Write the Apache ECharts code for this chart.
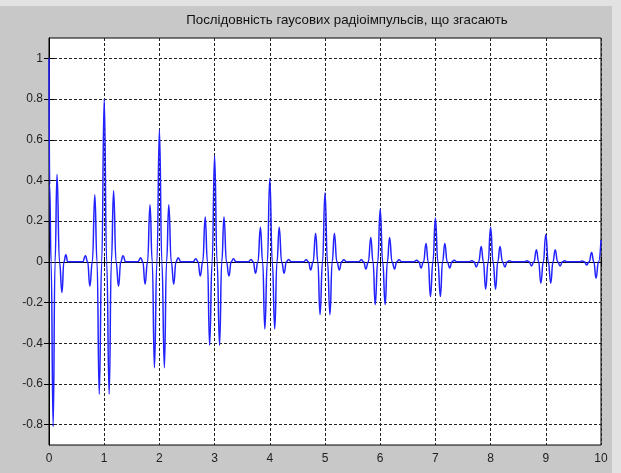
<!DOCTYPE html>
<html><head><meta charset="utf-8">
<script src="https://cdn.jsdelivr.net/npm/echarts@6/dist/echarts.min.js"></script>
<style>
html,body{margin:0;padding:0;background:#e2e2e2;}
#c{width:621px;height:473px;background:linear-gradient(#c8c8c8,#c8c8c8) 0 6px / 612px 467px no-repeat,#e2e2e2;}
</style>
</head><body><div id="c"></div>
<script>
const titleText = 'Послідовність гаусових радіоімпульсів, що згасають';
const xTicks = [0,1,2,3,4,5,6,7,8,9,10];
const yTicks = [-0.8,-0.6,-0.4,-0.2,0,0.2,0.4,0.6,0.8,1];

// first (half) pulse starting at t = 0
const pulse0Times  = [0, 0.012, 0.038, 0.075, 0.11, 0.145, 0.19, 0.235, 0.27, 0.305, 0.34, 0.43];
const pulse0Values = [1.0, 0.38, 0.0, -0.81, 0.0, 0.43, 0.0, -0.15, 0.0, 0.035, 0.0, 0.0];

// full pulses centred on t = 1..9 (extrema and zero crossings)
const pulseCenters = [1,2,3,4,5,6,7,8,9];
const pulseOffsets = [-0.45,-0.39,-0.34,-0.3,-0.26,-0.215,-0.17,-0.13,-0.09,-0.045,0,0.045,0.09,0.13,0.17,0.215,0.26,0.3,0.34,0.39,0.45];
const pulseValues = [
  [0,0,0.03, 0,-0.12, 0,0.33, 0,-0.65, 0,0.80, 0,-0.65, 0,0.35, 0,-0.12, 0,0.03, 0,0],
  [0,0,0.02, 0,-0.11, 0,0.28, 0,-0.52, 0,0.65, 0,-0.52, 0,0.28, 0,-0.11, 0,0.02, 0,0],
  [0,0,0.015,0,-0.07, 0,0.22, 0,-0.41, 0,0.52, 0,-0.41, 0,0.22, 0,-0.07, 0,0.015,0,0],
  [0,0,0.012,0,-0.056,0,0.17, 0,-0.33, 0,0.41, 0,-0.33, 0,0.17, 0,-0.056,0,0.012,0,0],
  [0,0,0.01, 0,-0.04, 0,0.14, 0,-0.26, 0,0.34, 0,-0.26, 0,0.14, 0,-0.04, 0,0.01, 0,0],
  [0,0,0.01, 0,-0.035,0,0.12, 0,-0.21, 0,0.26, 0,-0.21, 0,0.12, 0,-0.035,0,0.01, 0,0],
  [0,0,0.008,0,-0.03, 0,0.09, 0,-0.17, 0,0.215,0,-0.17, 0,0.09, 0,-0.03, 0,0.008,0,0],
  [0,0,0.006,0,-0.025,0,0.075,0,-0.135,0,0.17, 0,-0.135,0,0.075,0,-0.025,0,0.006,0,0],
  [0,0,0.005,0,-0.02, 0,0.06, 0,-0.105,0,0.135,0,-0.105,0,0.06, 0,-0.02, 0,0.005,0,0]
];

// last (half) pulse ending at t = 10
const lastPulseTimes  = [9.55, 9.61, 9.66, 9.7, 9.74, 9.785, 9.83, 9.87, 9.91, 9.955, 10];
const lastPulseValues = [0, 0, 0.004, 0, -0.015, 0, 0.046, 0, -0.08, 0, 0.108];

const data = [];
pulse0Times.forEach((t, i) => data.push([t, pulse0Values[i]]));
pulseCenters.forEach((c, k) => {
  pulseOffsets.forEach((o, i) => data.push([+(c + o).toFixed(3), pulseValues[k][i]]));
});
lastPulseTimes.forEach((t, i) => data.push([t, lastPulseValues[i]]));

const chart = echarts.init(document.getElementById('c'), null, {renderer: 'canvas'});
const font = 'Liberation Sans, Arial, sans-serif';
const gridLine = {show: true, lineStyle: {color: '#222', width: 1, type: [3, 2]}};
const axisLineBlack = {show: true, lineStyle: {color: '#000', width: 1}};
chart.setOption({
  animation: false,
  backgroundColor: 'transparent',
  graphic: [{
    type: 'text', x: 347, y: 20,
    style: {text: titleText, fill: '#111', font: '13.3px ' + font, align: 'center', verticalAlign: 'middle'}
  }],
  grid: {left: 49, right: 20, top: 38, bottom: 28, show: true, backgroundColor: '#fff', borderColor: '#000', borderWidth: 1},
  xAxis: [{
    type: 'value', min: 0, max: 10, interval: 1, position: 'bottom',
    axisLine: axisLineBlack,
    axisTick: {show: true, inside: true, length: 5, lineStyle: {color: '#000'}},
    axisLabel: {color: '#222', fontSize: 12, fontFamily: font, margin: 8},
    splitLine: gridLine
  }, {
    type: 'value', min: 0, max: 10, interval: 1, position: 'top',
    axisLine: axisLineBlack,
    axisTick: {show: true, inside: true, length: 5, lineStyle: {color: '#000'}},
    axisLabel: {show: false}, splitLine: {show: false}
  }],
  yAxis: [{
    type: 'value', min: -0.9, max: 1.1, position: 'left',
    axisLine: axisLineBlack,
    axisTick: {show: true, inside: true, length: 5, customValues: yTicks, lineStyle: {color: '#000'}},
    axisLabel: {color: '#222', fontSize: 12, fontFamily: font, margin: 6, customValues: yTicks},
    splitLine: gridLine
  }, {
    type: 'value', min: -0.9, max: 1.1, position: 'right',
    axisLine: axisLineBlack,
    axisTick: {show: true, inside: true, length: 5, customValues: yTicks, lineStyle: {color: '#000'}},
    axisLabel: {show: false}, splitLine: {show: false}
  }],
  series: [{
    type: 'line', data: data, showSymbol: false, clip: true,
    smooth: 0.5, smoothMonotone: 'x',
    lineStyle: {color: '#2222ff', width: 1.5},
    xAxisIndex: 0, yAxisIndex: 0
  }]
});
</script>
</body></html>
